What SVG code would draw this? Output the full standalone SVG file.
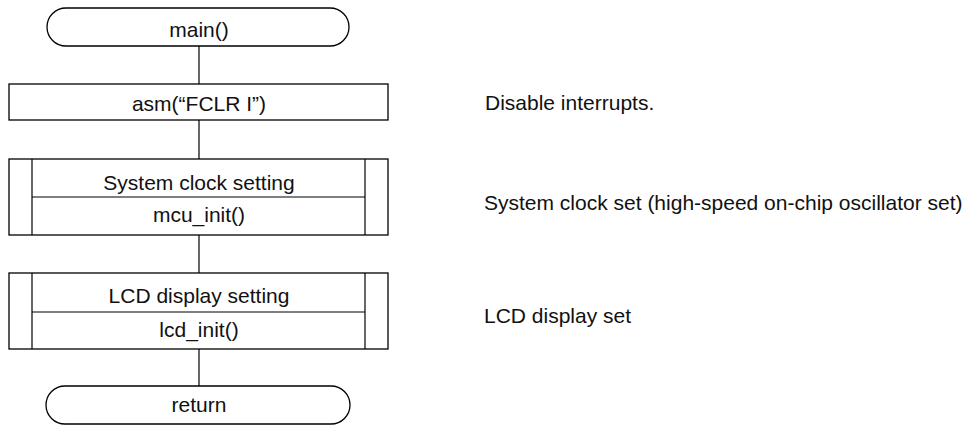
<svg xmlns="http://www.w3.org/2000/svg" width="975" height="426" viewBox="0 0 975 426">
<style>
.s{fill:#fff;stroke:#000;stroke-width:1.3}
.l{fill:none;stroke:#000;stroke-width:1.2}
text{font-family:"Liberation Sans",Arial,sans-serif;font-size:21px;fill:#111}
.c{text-anchor:middle}
</style>
<rect width="975" height="426" fill="#fff"/>
<g id="connectors">
<line class="l" x1="199" y1="46" x2="199" y2="84"/>
<line class="l" x1="199" y1="120" x2="199" y2="159"/>
<line class="l" x1="199" y1="235" x2="199" y2="273"/>
<line class="l" x1="199" y1="349" x2="199" y2="386"/>
</g>
<g id="main">
<rect class="s" x="47" y="8" width="302" height="38" rx="19" ry="19"/>
<text class="c" x="199" y="37">main()</text>
</g>
<g id="asm">
<rect class="s" x="9" y="84" width="379" height="36"/>
<text class="c" x="199" y="111">asm(“FCLR I”)</text>
</g>
<g id="mcu_init">
<rect class="s" x="9" y="159" width="379" height="76"/>
<line class="l" x1="32" y1="159" x2="32" y2="235"/>
<line class="l" x1="365" y1="159" x2="365" y2="235"/>
<line class="l" x1="32" y1="197" x2="365" y2="197"/>
<text class="c" x="199" y="190">System clock setting</text>
<text class="c" x="199" y="222">mcu_init()</text>
</g>
<g id="lcd_init">
<rect class="s" x="9" y="273" width="379" height="76"/>
<line class="l" x1="32" y1="273" x2="32" y2="349"/>
<line class="l" x1="365" y1="273" x2="365" y2="349"/>
<line class="l" x1="32" y1="312" x2="365" y2="312"/>
<text class="c" x="199" y="303">LCD display setting</text>
<text class="c" x="199" y="337">lcd_init()</text>
</g>
<g id="return">
<rect class="s" x="46" y="386" width="304" height="38" rx="19" ry="19"/>
<text class="c" x="199" y="412">return</text>
</g>
<g id="notes">
<text x="485" y="110">Disable interrupts.</text>
<text x="484" y="210">System clock set (high-speed on-chip oscillator set)</text>
<text x="484" y="323">LCD display set</text>
</g>
</svg>
